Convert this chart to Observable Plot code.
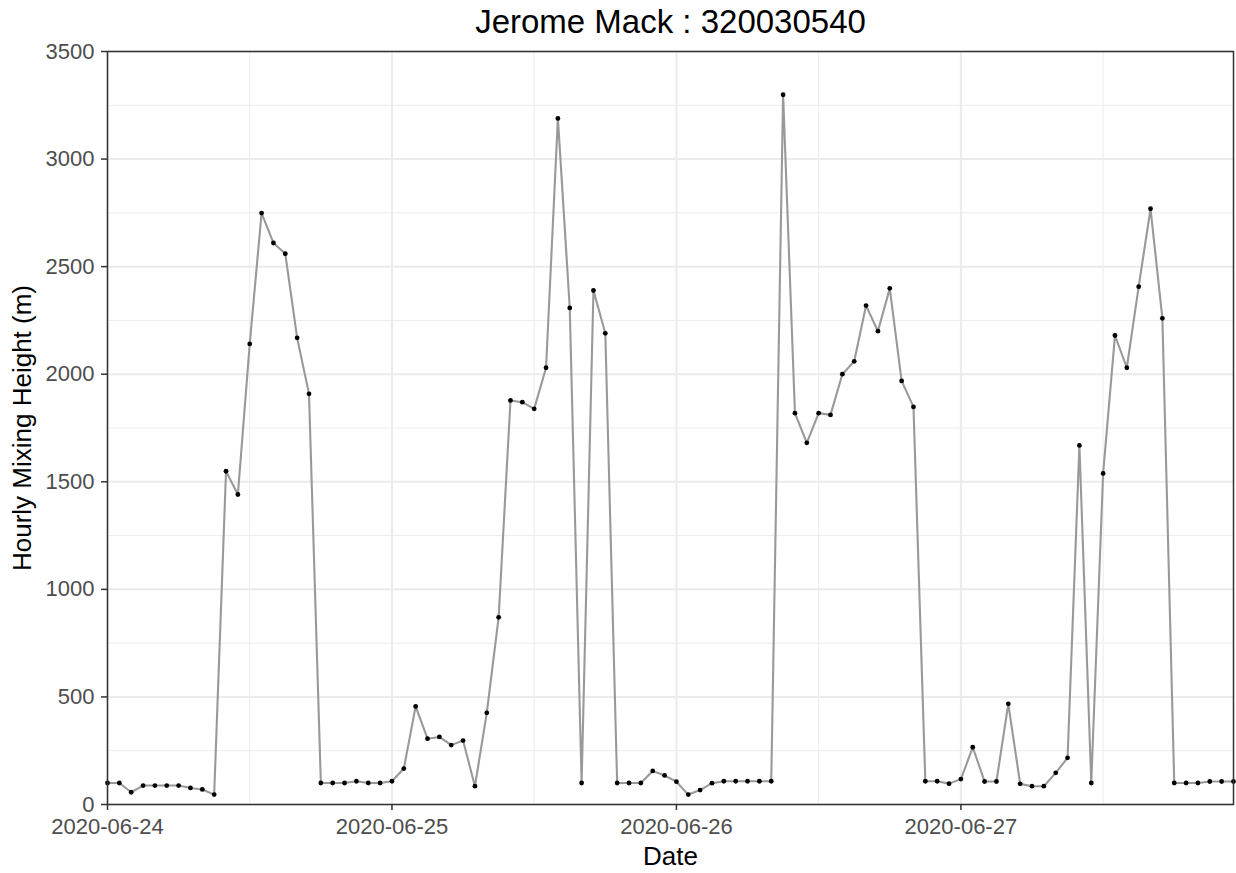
<!DOCTYPE html>
<html>
<head>
<meta charset="utf-8">
<script src="https://cdn.jsdelivr.net/npm/d3@7"></script>
<script src="https://cdn.jsdelivr.net/npm/@observablehq/plot@0.6"></script>
<style>
  body { margin: 0; background: #ffffff; }
  #chart svg { display: block; }
</style>
</head>
<body>
<div id="chart"></div>
<script>
const chartTitle = "Jerome Mack : 320030540";
const xLabel = "Date";
const yLabel = "Hourly Mixing Height (m)";

// hourly observations starting at this time (UTC)
const startTime = "2020-06-24T00:00:00Z";

// Hourly mixing height (m), one value per hour, 2020-06-24 00:00 .. 2020-06-27 23:00
const mixingHeight = [
  // 2020-06-24
  100, 100, 57, 88, 88, 88, 88, 77, 70, 46, 1549, 1441,
  2141, 2749, 2610, 2560, 2169, 1909, 100, 100, 100, 108, 100, 100,
  // 2020-06-25
  108, 167, 456, 306, 314, 276, 297, 85, 426, 870, 1878, 1870,
  1839, 2030, 3189, 2308, 100, 2389, 2190, 100, 100, 100, 156, 135,
  // 2020-06-26
  106, 46, 67, 99, 108, 108, 108, 108, 108, 3299, 1819, 1681,
  1819, 1811, 2000, 2060, 2319, 2200, 2399, 1969, 1848, 108, 108, 97,
  // 2020-06-27
  118, 266, 107, 107, 468, 96, 85, 85, 147, 217, 1669, 100,
  1539, 2180, 2030, 2407, 2769, 2260, 100, 100, 100, 107, 107, 107
];

const xTickLabels = ["2020-06-24", "2020-06-25", "2020-06-26", "2020-06-27"];
const xMinorTicks = ["2020-06-24T12:00:00Z", "2020-06-25T12:00:00Z", "2020-06-26T12:00:00Z", "2020-06-27T12:00:00Z"];
const yTicks = [0, 500, 1000, 1500, 2000, 2500, 3000, 3500];
const yMinorTicks = [250, 750, 1250, 1750, 2250, 2750, 3250];

const t0 = new Date(startTime);
const data = mixingHeight.map((v, i) => ({ time: d3.utcHour.offset(t0, i), value: v }));
const xMajor = xTickLabels.map(s => new Date(s + "T00:00:00Z"));
const xMinor = xMinorTicks.map(s => new Date(s));

const fontFamily = "'Liberation Sans', Arial, Helvetica, sans-serif";

const plot = Plot.plot({
  width: 1236,
  height: 873,
  marginLeft: 107,
  marginRight: 3,
  marginTop: 51,
  marginBottom: 69,
  style: { fontFamily, background: "#ffffff", overflow: "visible" },
  x: { type: "utc", domain: [data[0].time, data[data.length - 1].time] },
  y: { domain: [0, 3500] },
  marks: [
    Plot.ruleX(xMinor, { stroke: "#EBEBEB", strokeWidth: 1 }),
    Plot.ruleY(yMinorTicks, { stroke: "#EBEBEB", strokeWidth: 1 }),
    Plot.ruleX(xMajor, { stroke: "#EBEBEB", strokeWidth: 2 }),
    Plot.ruleY(yTicks, { stroke: "#EBEBEB", strokeWidth: 2 }),
    Plot.line(data, { x: "time", y: "value", stroke: "#999999", strokeWidth: 2.1 }),
    Plot.dot(data, { x: "time", y: "value", r: 2.4, fill: "#000000", stroke: "none" }),
    Plot.frame({ stroke: "#333333", strokeWidth: 1.5 }),
    Plot.axisX(xMajor, {
      tickSize: 6, tickPadding: 8, tickFormat: d3.utcFormat("%Y-%m-%d"),
      fontSize: 22, stroke: "#333333", fill: "#4D4D4D", strokeWidth: 1.5, label: null
    }),
    Plot.axisY(yTicks, {
      tickSize: 6, tickPadding: 7, tickFormat: d => String(d),
      fontSize: 22, stroke: "#333333", fill: "#4D4D4D", strokeWidth: 1.5, label: null
    }),
    Plot.text([chartTitle], {
      frameAnchor: "top", lineAnchor: "middle", textAnchor: "middle",
      dy: -29, fontSize: 33, fill: "#000000"
    }),
    Plot.text([xLabel], {
      frameAnchor: "bottom", lineAnchor: "middle", textAnchor: "middle",
      dy: 52, fontSize: 26, fill: "#000000"
    }),
    Plot.text([yLabel], {
      frameAnchor: "left", lineAnchor: "middle", textAnchor: "middle",
      dx: -85, rotate: -90, fontSize: 26, fill: "#000000"
    })
  ]
});

document.getElementById("chart").appendChild(plot);
</script>
</body>
</html>
